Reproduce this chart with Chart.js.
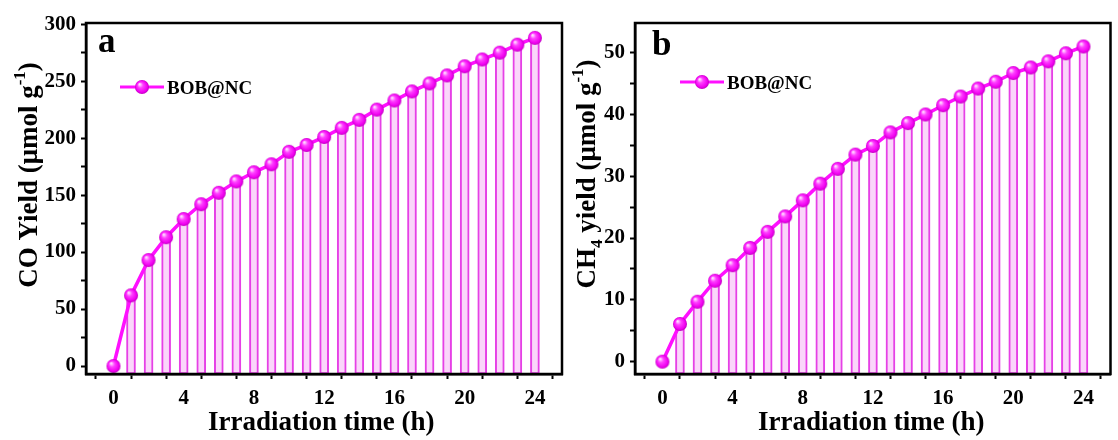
<!DOCTYPE html>
<html>
<head>
<meta charset="utf-8">
<script src="https://cdn.jsdelivr.net/npm/chart.js@4.4.1/dist/chart.umd.min.js"></script>
<style>
  body { margin: 0; background: #fff; }
  #wrap { position: relative; width: 1118px; height: 440px; }
  .panel { position: absolute; top: 0; height: 440px; }
  #panelA { left: 0; width: 575px; }
  #panelB { left: 548px; width: 570px; }
  .xtitle { position: absolute; top: 406px; font: bold 27px "Liberation Serif", serif; color: #000; }
</style>
</head>
<body>
<div id="wrap">
  <div class="panel" id="panelA"><canvas id="chartA"></canvas></div>
  <div class="panel" id="panelB"><canvas id="chartB"></canvas></div>
  <span class="xtitle" style="left:208px;">Irradiation time (h)</span>
  <span class="xtitle" style="left:758px;">Irradiation time (h)</span>
</div>
<script>
// irradiation time (h) and cumulative yields (umol/g)
const hours = [0, 1, 2, 3, 4, 5, 6, 7, 8, 9, 10, 11, 12, 13, 14, 15, 16, 17, 18, 19, 20, 21, 22, 23, 24];
const coYield = [0, 62, 93, 113, 129, 142, 152, 162, 170, 177, 188, 194, 201, 209, 216, 225, 233, 241, 248, 255, 263, 269, 275, 282, 288];
const ch4Yield = [0, 6.1, 9.7, 13.1, 15.6, 18.4, 21.0, 23.5, 26.1, 28.8, 31.2, 33.5, 34.9, 37.1, 38.6, 40.0, 41.5, 42.9, 44.2, 45.3, 46.7, 47.6, 48.6, 49.9, 51.0];
const seriesName = 'BOB@NC';

const xTickLabels = [0, 4, 8, 12, 16, 20, 24];
const xMinorTicks = [2, 6, 10, 14, 18, 22];
const coTickLabels = [0, 50, 100, 150, 200, 250, 300];
const coMinorTicks = [25, 75, 125, 175, 225, 275];
const ch4TickLabels = [0, 10, 20, 30, 40, 50];
const ch4MinorTicks = [5, 15, 25, 35, 45];

const MAGENTA = '#ff10ff';
const BAR_EDGE = '#e640e6';
const BAR_FILL = '#fad6fa';
const FONT = '"Liberation Serif", "Times New Roman", serif';

// shaded ball used as the point marker
function makeBall(r) {
  const c = document.createElement('canvas');
  c.width = c.height = r * 2 + 2;
  const g = c.getContext('2d');
  const cx = r + 1;
  const grad = g.createRadialGradient(cx - r * 0.35, cx - r * 0.4, 0.5, cx, cx, r);
  grad.addColorStop(0, '#ffe0ff');
  grad.addColorStop(0.35, '#ff40ff');
  grad.addColorStop(0.8, '#f000f0');
  grad.addColorStop(1, '#c000c0');
  g.fillStyle = grad;
  g.beginPath();
  g.arc(cx, cx, r, 0, Math.PI * 2);
  g.fill();
  return c;
}
const ball = makeBall(7);

// per-panel decorations, kept outside the chart options
const decor = {
  chartA: {
    letter: 'a', letterDx: 12, letterDy: 29,
    legendX: 34, legendY: 87,
    yTitleX: 37, yTitleY: 175,
    yTitle: [['CO Yield (\u03bcmol g', 0], ['-1', -12], [')', 0]]
  },
  chartB: {
    letter: 'b', letterDx: 17, letterDy: 32,
    legendX: 45, legendY: 82,
    yTitleX: 47, yTitleY: 174,
    yTitle: [['CH', 0], ['4', 7], [' yield (\u03bcmol g', 0], ['-1', -12], [')', 0]]
  }
};

// frame, panel letter, legend and rotated y title with sub/superscripts
const decorPlugin = {
  id: 'decor',
  afterDraw(chart) {
    const opts = decor[chart.canvas.id];
    const { ctx, chartArea: a } = chart;
    ctx.save();
    ctx.strokeStyle = '#000';
    ctx.lineWidth = 2.5;
    ctx.strokeRect(a.left, a.top, a.right - a.left, a.bottom - a.top);

    ctx.fillStyle = '#000';
    ctx.font = 'bold 35px ' + FONT;
    ctx.textBaseline = 'alphabetic';
    ctx.textAlign = 'left';
    ctx.fillText(opts.letter, a.left + opts.letterDx, a.top + opts.letterDy);

    // legend entry
    const ly = opts.legendY;
    ctx.strokeStyle = MAGENTA;
    ctx.lineWidth = 3;
    ctx.beginPath();
    ctx.moveTo(a.left + opts.legendX, ly);
    ctx.lineTo(a.left + opts.legendX + 44, ly);
    ctx.stroke();
    ctx.drawImage(ball, a.left + opts.legendX + 22 - ball.width / 2, ly - ball.height / 2);
    ctx.fillStyle = '#000';
    ctx.font = 'bold 19px ' + FONT;
    ctx.fillText(seriesName, a.left + opts.legendX + 47, ly + 7);

    // y axis title
    const big = 'bold 27px ' + FONT;
    const small = 'bold 17px ' + FONT;
    let total = 0;
    opts.yTitle.forEach(([t, shift]) => {
      ctx.font = shift ? small : big;
      total += ctx.measureText(t).width;
    });
    ctx.translate(opts.yTitleX, opts.yTitleY);
    ctx.rotate(-Math.PI / 2);
    let x = -total / 2;
    opts.yTitle.forEach(([t, shift]) => {
      ctx.font = shift ? small : big;
      ctx.fillText(t, x, shift);
      x += ctx.measureText(t).width;
    });
    ctx.restore();
  }
};

function axisStyle(major, minor, pad) {
  return {
    afterBuildTicks: scale => {
      scale.ticks = major.concat(minor).sort((p, q) => p - q).map(v => ({ value: v }));
    },
    ticks: {
      color: '#000',
      font: { family: FONT, size: 21, weight: 'bold' },
      callback: v => (major.includes(v) ? String(v) : ''),
      padding: pad,
      maxRotation: 0,
      autoSkip: false
    },
    grid: { drawOnChartArea: false, drawTicks: true, tickLength: 5, tickWidth: 2, tickColor: '#000' },
    border: { display: true, color: '#000', width: 2.5 }
  };
}

function buildChart(id, values, yMin, yMax, yMajor, yMinor, axisWidth, padRight) {
  const points = hours.map((h, i) => ({ x: h, y: values[i] }));
  const bars = points.filter(p => p.y > 0);
  return new Chart(document.getElementById(id), {
    type: 'bar',
    data: {
      datasets: [{
        type: 'line',
        label: seriesName,
        data: points,
        borderColor: MAGENTA,
        borderWidth: 3.5,
        pointStyle: ball,
        order: 0
      }, {
        type: 'bar',
        label: seriesName,
        data: bars,
        base: yMin,
        barThickness: 9,
        backgroundColor: BAR_FILL,
        borderColor: BAR_EDGE,
        borderWidth: 2,
        borderSkipped: false,
        order: 1
      }]
    },
    options: {
      responsive: true,
      maintainAspectRatio: false,
      animation: false,
      layout: { padding: { left: 0, top: 23, right: padRight, bottom: 0 } },
      plugins: { legend: { display: false }, tooltip: { enabled: false } },
      scales: {
        x: Object.assign({ type: 'linear', min: -0.52, max: 24.5, afterFit: s => { s.height = 66; } },
          axisStyle(xTickLabels, xMinorTicks, 7)),
        y: Object.assign({ type: 'linear', min: yMin, max: yMax, afterFit: s => { s.width = axisWidth; } },
          axisStyle(yMajor, yMinor, 5))
      }
    },
    plugins: [decorPlugin]
  });
}

buildChart('chartA', coYield, -7, 301, coTickLabels, coMinorTicks, 86, 13);
buildChart('chartB', ch4Yield, -2, 54.8, ch4TickLabels, ch4MinorTicks, 87, 5);
</script>
</body>
</html>
